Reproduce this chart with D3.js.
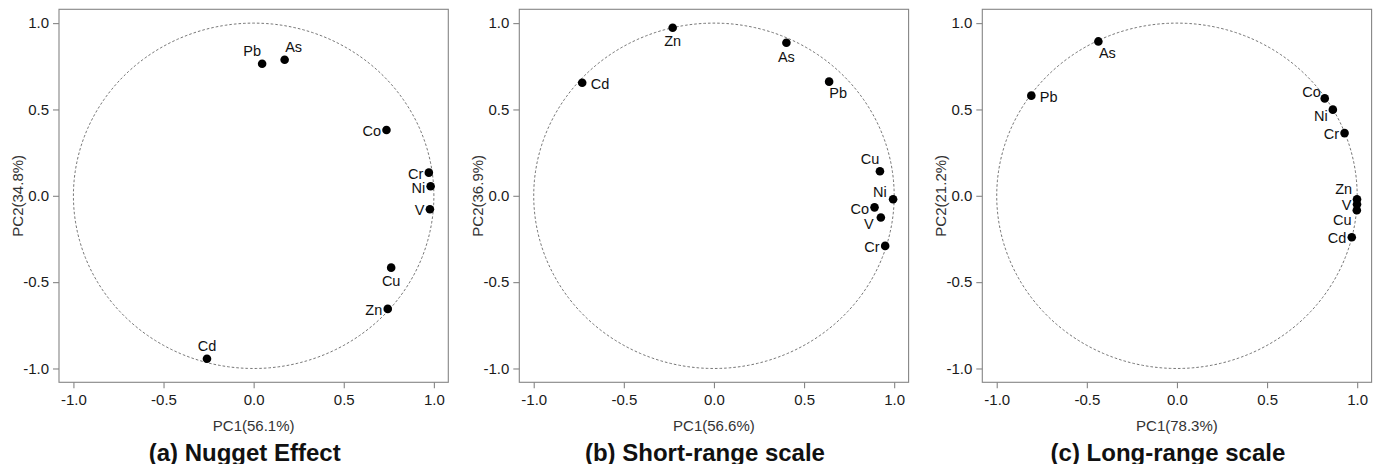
<!DOCTYPE html>
<html>
<head>
<meta charset="utf-8">
<script src="https://cdn.jsdelivr.net/npm/d3@7"></script>
<style>
  html, body { margin: 0; padding: 0; background: #fff; }
  svg { display: block; font-family: "Liberation Sans", Arial, Helvetica, sans-serif; }
</style>
</head>
<body>
<svg id="chart" width="1378" height="464"></svg>
<script>
// ---------------- DATA ----------------
const tickValues = [-1, -0.5, 0, 0.5, 1];
const tickLabels = ["-1.0", "-0.5", "0.0", "0.5", "1.0"];

const panelTitles = ["(a) Nugget Effect", "(b) Short-range scale", "(c) Long-range scale"];
const xTitles = ["PC1(56.1%)", "PC1(56.6%)", "PC1(78.3%)"];
const yTitles = ["PC2(34.8%)", "PC2(36.9%)", "PC2(21.2%)"];

// (a) Nugget effect
const elementsA = ["Pb", "As", "Co", "Cr", "Ni", "V", "Cu", "Zn", "Cd"];
const pc1A = [0.047, 0.172, 0.737, 0.972, 0.982, 0.978, 0.763, 0.744, -0.259];
const pc2A = [0.765, 0.788, 0.381, 0.134, 0.055, -0.078, -0.416, -0.655, -0.944];
const labelPosA = ["above-left", "above-right", "left", "left", "left", "left", "below", "left", "above"];

// (b) Short-range scale
const elementsB = ["Zn", "As", "Cd", "Pb", "Cu", "Ni", "Co", "V", "Cr"];
const pc1B = [-0.229, 0.402, -0.731, 0.639, 0.921, 0.994, 0.891, 0.926, 0.950];
const pc2B = [0.973, 0.886, 0.655, 0.661, 0.142, -0.020, -0.067, -0.126, -0.290];
const labelPosB = ["below", "below", "right", "below-right", "above-left", "left-up", "left", "below-left", "left"];

// (c) Long-range scale
const elementsC = ["As", "Pb", "Co", "Ni", "Cr", "Zn", "V", "Cu", "Cd"];
const pc1C = [-0.436, -0.808, 0.820, 0.865, 0.930, 0.999, 0.999, 0.998, 0.970];
const pc2C = [0.894, 0.580, 0.564, 0.499, 0.363, -0.020, -0.049, -0.084, -0.240];
const labelPosC = ["below-right", "right", "left-up", "below-left", "left", "left-up-far", "left", "below-left-far", "left"];

// ---------------- DRAWING ----------------
const svg = d3.select("#chart");
const panelOffsets = [0, 460.3, 923.3];
const box = { left: 59, right: 448.3, top: 9.3, bottom: 382.3 };
const domain = [-1.08, 1.08];
const FONT = '"Liberation Sans", Arial, Helvetica, sans-serif';

const panelsData = [
  { el: elementsA, x: pc1A, y: pc2A, pos: labelPosA },
  { el: elementsB, x: pc1B, y: pc2B, pos: labelPosB },
  { el: elementsC, x: pc1C, y: pc2C, pos: labelPosC }
];

const labelOffsets = {
  "above":          { dx: 0,     dy: -13,  anchor: "middle" },
  "below":          { dx: 0,     dy: 13.5, anchor: "middle" },
  "left":           { dx: -5.5,  dy: 1,    anchor: "end" },
  "right":          { dx: 8.5,   dy: 1,    anchor: "start" },
  "above-left":     { dx: -10,   dy: -12.5,anchor: "middle" },
  "above-right":    { dx: 9,     dy: -12.6,anchor: "middle" },
  "below-right":    { dx: 9,     dy: 11.5, anchor: "middle" },
  "below-left":     { dx: -12,   dy: 6.5,  anchor: "middle" },
  "below-left-far": { dx: -14.5, dy: 9,    anchor: "middle" },
  "left-up":        { dx: -13.3, dy: -7,   anchor: "middle" },
  "left-up-far":    { dx: -13.3, dy: -10.5,anchor: "middle" }
};

panelsData.forEach((p, i) => {
  const g = svg.append("g").attr("transform", `translate(${panelOffsets[i]},0)`);
  const x = d3.scaleLinear().domain(domain).range([box.left, box.right]);
  const y = d3.scaleLinear().domain(domain).range([box.bottom, box.top]);

  // unit reference circle
  const angles = d3.range(0, 361, 1).map(a => a * Math.PI / 180);
  const circ = d3.line().x(a => x(Math.cos(a))).y(a => y(Math.sin(a)));
  g.append("path")
    .attr("d", circ(angles))
    .attr("fill", "none")
    .attr("stroke", "#666")
    .attr("stroke-width", 0.9)
    .attr("stroke-dasharray", "2.6,2");

  // box
  g.append("rect")
    .attr("x", box.left).attr("y", box.top)
    .attr("width", box.right - box.left).attr("height", box.bottom - box.top)
    .attr("fill", "none").attr("stroke", "#858585").attr("stroke-width", 1.1);

  // axes
  const xAxis = d3.axisBottom(x).tickValues(tickValues)
    .tickFormat((d, k) => tickLabels[k]).tickSize(6).tickPadding(6.5);
  const gx = g.append("g").attr("transform", `translate(0,${box.bottom})`).call(xAxis);
  const yAxis = d3.axisLeft(y).tickValues(tickValues)
    .tickFormat((d, k) => tickLabels[k]).tickSize(6).tickPadding(4);
  const gy = g.append("g").attr("transform", `translate(${box.left},0)`).call(yAxis);
  [gx, gy].forEach(ax => {
    ax.select(".domain").remove();
    ax.selectAll(".tick line").attr("stroke", "#858585").attr("stroke-width", 1.1);
    ax.selectAll(".tick text").attr("fill", "#1a1a1a")
      .style("font-size", "15px")
      .style("font-family", FONT);
  });

  // axis titles
  const cx = (box.left + box.right) / 2;
  g.append("text")
    .attr("x", cx).attr("y", 431)
    .attr("text-anchor", "middle")
    .attr("fill", "#333")
    .style("font-size", "15px")
    .text(xTitles[i]);
  g.append("text")
    .attr("transform", `translate(22.5,${(box.top + box.bottom) / 2}) rotate(-90)`)
    .attr("text-anchor", "middle")
    .attr("fill", "#333")
    .style("font-size", "15px")
    .text(yTitles[i]);

  // panel title
  g.append("text")
    .attr("x", cx - 9).attr("y", 460.5)
    .attr("text-anchor", "middle")
    .attr("fill", "#111")
    .style("font-size", "24px")
    .style("font-weight", "bold")
    .text(panelTitles[i]);

  // points
  const pts = p.el.map((e, k) => ({ name: e, v1: p.x[k], v2: p.y[k], pos: p.pos[k] }));
  g.selectAll("circle.pt").data(pts).enter().append("circle")
    .attr("class", "pt")
    .attr("cx", d => x(d.v1)).attr("cy", d => y(d.v2))
    .attr("r", 4.3).attr("fill", "#000");

  g.selectAll("text.lbl").data(pts).enter().append("text")
    .attr("class", "lbl")
    .attr("x", d => x(d.v1) + labelOffsets[d.pos].dx)
    .attr("y", d => y(d.v2) + labelOffsets[d.pos].dy)
    .attr("dy", "0.36em")
    .attr("text-anchor", d => labelOffsets[d.pos].anchor)
    .attr("fill", "#111")
    .style("font-size", "14.5px")
    .text(d => d.name);
});
</script>
</body>
</html>
